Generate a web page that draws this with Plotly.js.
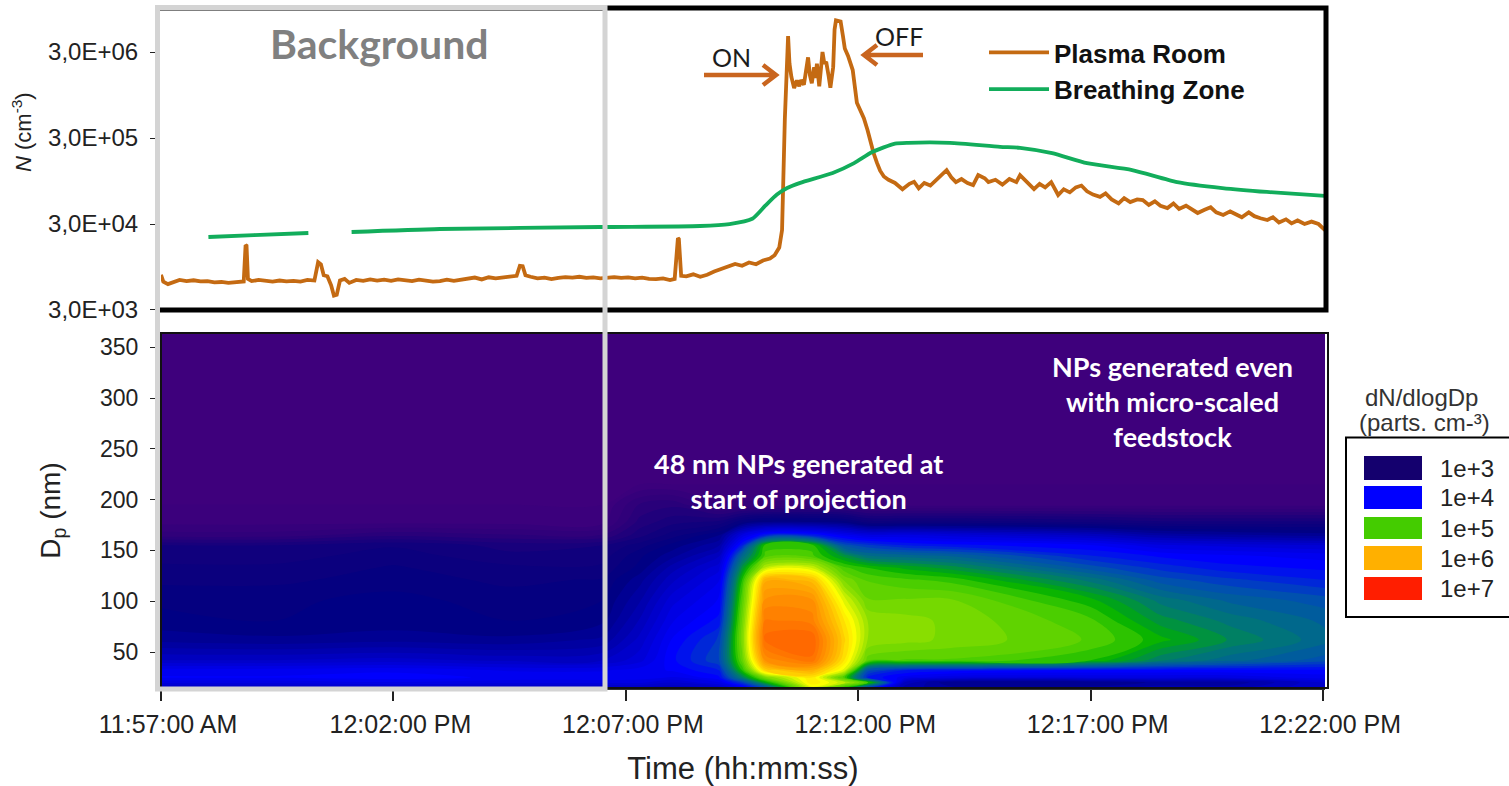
<!DOCTYPE html>
<html>
<head>
<meta charset="utf-8">
<script src="https://cdn.plot.ly/plotly-3.0.1.min.js"></script>
<style>html,body{margin:0;padding:0;background:#fff;overflow:hidden}</style>
</head>
<body>
<div id="chart" style="width:1509px;height:786px"></div>
<script>
// Elapsed minutes after 11:57:00
var baselineMinutes = [0,0.05,0.15,0.3,0.4,0.55,0.7,0.85,1,1.15,1.3,1.45,1.6,1.78,1.82,1.84,1.87,1.95,2.1,2.25,2.4,2.55,2.7,2.85,3,3.15,3.3,3.38,3.44,3.5,3.58,3.66,3.72,3.78,3.85,3.95,4.05,4.2,4.35,4.5,4.65,4.8,4.95,5.1,5.25,5.4,5.55,5.7,5.85,6,6.15,6.3,6.45,6.6,6.75,6.9,7.05,7.2,7.35,7.5,7.65,7.72,7.78,7.84,7.95,8.1,8.25,8.4,8.55,8.7,8.85,9,9.15,9.3,9.45,9.6,9.75,9.9,10.05,10.2,10.35,10.5,10.65,10.8,10.95,11.05,11.12,11.14,11.19];
var baselineN = [7700,6400,6000,6500,6700,6500,6650,6450,6500,6300,6350,6200,6300,6450,17100,16800,6900,6500,6700,6550,6400,6600,6450,6550,6400,6700,6600,10800,10200,7600,7400,5800,4400,4500,6600,6900,6200,6700,6550,6800,6600,6750,6550,6800,6650,6500,6750,6600,6400,6500,6750,6550,6700,6900,7150,6800,7200,7000,7100,7350,7500,9800,9700,7600,7300,7000,7150,6850,7100,7250,7150,7300,7100,7200,7000,7150,7250,7100,7200,7000,7150,6900,6850,7000,6700,6900,20500,20000,7500];
var riseMinutes = [11.3,11.45,11.6,11.75,11.9,12.05,12.2,12.35,12.5,12.65,12.8,12.95,13.1,13.2];
var riseN = [7400,7800,7300,7700,8400,9000,9800,10300,9800,10700,10200,11300,11900,13000];
var peakMinutes = [13.3,13.36,13.42,13.46,13.49,13.52,13.56,13.62,13.68,13.73,13.77,13.83,13.88,13.92,13.96,14.0,14.05,14.08,14.11,14.14,14.16,14.2,14.23,14.27,14.31,14.36,14.4,14.46,14.49,14.52,14.58,14.62,14.67,14.71,14.78,14.83,14.88,14.97,15.05,15.12,15.2,15.26,15.33,15.4,15.47,15.55,15.65,15.79];
var peakN = [16000,25500,500000,2800000,4600000,2200000,1550000,1140000,1400000,1200000,1420000,1250000,2000000,2600000,1600000,1300000,2000000,1500000,2200000,1600000,1200000,2000000,3000000,2200000,2300000,1600000,1150000,2000000,5500000,7000000,6800000,6800000,4600000,3300000,2700000,2300000,1852000,770000,620000,510000,370000,272000,200000,155000,125000,107000,98000,90000];
var tailMinutes = [15.95,16.1,16.2,16.3,16.42,16.55,16.68,16.8,16.9,17.0,17.1,17.22,17.35,17.47,17.58,17.72,17.8,17.95,18.1,18.25,18.4,18.48,18.65,18.78,18.9,19.02,19.15,19.3,19.42,19.55,19.68,19.8,19.92,20.05,20.2,20.32,20.45,20.6,20.72,20.85,21,21.12,21.25,21.38,21.5,21.65,21.78,21.9,22.05,22.18,22.3,22.45,22.58,22.7,22.85,23,23.12,23.25,23.4,23.52,23.65,23.8,23.92,24.05,24.2,24.32,24.45,24.6,24.75,24.9,25.04];
var tailN = [76000,88000,93000,78000,90000,84000,98000,110000,127000,105000,92000,100000,90000,85000,111000,102000,92000,98000,86000,100000,92000,111000,90000,76500,88000,80000,92000,65200,76000,70000,80000,84000,72000,66000,62000,68000,58000,52000,60000,54000,58000,57000,50000,55000,49000,46000,52000,45000,49000,44000,40300,44000,47000,41000,38200,42000,39000,36000,41000,37000,35000,33400,36000,31300,34000,30500,33000,30000,32000,30000,25540];
var plasmaMinutes = [].concat(baselineMinutes,riseMinutes,peakMinutes,tailMinutes);
var plasmaN = [].concat(baselineN,riseN,peakN,tailN);
var breathingMinutes = [1.02,2.0,3.17,3.2,4.1,6.0,9.45,11.6,12.23,12.72,13.0,13.25,13.47,13.75,14.45,14.91,15.3,15.79,16.07,16.97,18.05,18.48,19.17,19.92,20.89,21.86,22.83,23.79,25.04];
var breathingN = [21170,22300,23570,null,24200,26230,27670,28420,29980,34500,49000,66000,78600,90300,117500,153000,206000,258000,264000,264000,237000,231000,200000,153000,127300,92300,78600,70700,63700];

// Contour grid: log10(dN/dlogDp)
var gridMinutes = [0,2.5,5,7.5,9.5,10.3,11,12,12.5,13,14,14.7,15.2,16,17,20,21.5,23,25.04];
var gridDp = [15,20,25,32,42,62,81,101,121,133,145,155,165,178,195,215,365];
var row15  = [3.60,3.60,3.65,3.60,3.60,3.60,3.55,3.65,3.9,4.3,5.5,4.9,4.2,3.5,3.4,3.4,3.5,3.5,3.7];
var row20  = [3.80,3.80,3.85,3.80,3.80,3.80,3.70,3.85,4.2,4.8,5.7,5.4,5.0,3.6,3.3,3.3,3.4,3.4,3.7];
var row25  = [3.95,3.95,3.98,3.92,3.92,3.90,3.85,4.00,4.6,5.2,5.7,5.0,4.1,3.9,3.8,3.8,3.8,3.8,3.9];
var row32  = [3.90,3.90,3.92,3.85,3.85,3.90,3.95,4.1,4.9,5.8,6.0,5.5,4.3,4.1,4.05,4.0,4.0,4.0,4.0];
var row42  = [3.62,3.62,3.65,3.60,3.62,3.75,4.0,4.25,5.1,6.2,6.4,5.7,5.1,5.05,5.05,4.9,4.6,4.45,4.3];
var row62  = [3.35,3.32,3.35,3.32,3.40,3.65,3.95,4.2,5.2,6.45,6.5,5.8,5.3,5.25,5.2,5.05,4.85,4.65,4.45];
var row81  = [3.25,3.22,3.25,3.22,3.28,3.55,3.85,4.05,5.15,6.35,6.3,5.7,5.3,5.25,5.2,5.0,4.7,4.55,4.4];
var row101 = [3.20,3.20,3.25,3.18,3.22,3.45,3.75,3.95,5.05,6.2,6.2,5.5,5.15,5.15,5.15,4.85,4.55,4.4,4.3];
var row121 = [3.12,3.12,3.18,3.12,3.15,3.35,3.6,3.85,4.9,6.0,5.9,5.2,5.05,5.0,4.95,4.55,4.3,4.2,4.1];
var row133 = [3.08,3.08,3.15,3.08,3.08,3.25,3.5,3.75,4.7,5.4,5.45,5.0,4.9,4.8,4.7,4.3,4.15,4.05,4.0];
var row145 = [3.02,3.02,3.1,3.0,3.02,3.2,3.35,3.6,4.45,5.0,5.0,4.7,4.5,4.45,4.4,4.1,4.0,3.95,3.9];
var row155 = [2.98,2.98,3.05,2.95,2.98,3.1,3.25,3.45,4.1,4.95,4.95,4.3,4.2,4.1,4.05,3.95,3.8,3.75,3.7];
var row165 = [2.7,2.7,2.8,2.75,2.75,2.95,3.1,3.3,3.8,4.1,4.1,3.9,3.8,3.8,3.75,3.6,3.45,3.4,3.35];
var row178 = [2.55,2.55,2.55,2.55,2.55,2.85,2.95,3.0,3.2,3.3,3.3,3.25,3.1,3.1,3.1,3.05,3.0,3.0,3.0];
var row195 = [2.5,2.5,2.5,2.5,2.5,2.75,2.8,2.6,2.6,2.6,2.6,2.6,2.55,2.55,2.55,2.55,2.55,2.55,2.55];
var row215 = [2.5,2.5,2.5,2.5,2.5,2.5,2.5,2.5,2.5,2.5,2.5,2.5,2.5,2.5,2.5,2.5,2.5,2.5,2.5];
var row365 = [2.5,2.5,2.5,2.5,2.5,2.5,2.5,2.5,2.5,2.5,2.5,2.5,2.5,2.5,2.5,2.5,2.5,2.5,2.5];

var timeTickVals = [0,5,10,15,20,25];
var timeTickText = ['11:57:00 AM','12:02:00 PM','12:07:00 PM','12:12:00 PM','12:17:00 PM','12:22:00 PM'];
var nTickVals = [3000,30000,300000,3000000];
var nTickText = ['3,0E+03','3,0E+04','3,0E+05','3,0E+06'];
var dpTickVals = [50,100,150,200,250,300,350];
var keyLabels = ['1e+3','1e+4','1e+5','1e+6','1e+7'];
var keyColors = ['#14006e','#0000ff','#44cc00','#ffb000','#ff1e00'];

var W = 1509, H = 786;
function px(x){return x/W;}
function py(y){return 1-y/H;}
var SANS = 'Liberation Sans, Arial, sans-serif';
var HUM = 'Lato, sans-serif';
var ORANGE = '#c46a12';
var ARROW = '#c9651f';

var zGrid = [row15,row20,row25,row32,row42,row62,row81,row101,row121,row133,row145,row155,row165,row178,row195,row215,row365];
var traces = [
 {type:'scatter',mode:'lines',name:'Plasma Room',x:plasmaMinutes,y:plasmaN,xaxis:'x',yaxis:'y',
  line:{color:ORANGE,width:3.8},hoverinfo:'x+y'},
 {type:'scatter',mode:'lines',name:'Breathing Zone',x:breathingMinutes,y:breathingN,xaxis:'x',yaxis:'y',connectgaps:false,
  line:{color:'#12ad5b',width:3.8,shape:'spline',smoothing:0.6},hoverinfo:'x+y'},
 {type:'contour',x:gridMinutes,y:gridDp,z:zGrid,xaxis:'x2',yaxis:'y2',showscale:false,showlegend:false,
  zauto:false,zmin:2.5,zmax:7,autocontour:false,
  contours:{start:2.5,end:7,size:0.08,coloring:'fill',showlines:false},line:{width:0},
  colorscale:[[0,'#3e007c'],[0.0556,'#2c007a'],[0.111,'#12007c'],[0.167,'#000082'],[0.244,'#0000c0'],[0.333,'#0000ff'],[0.4,'#0050b0'],[0.467,'#007a70'],[0.522,'#00b000'],[0.556,'#44cc00'],[0.622,'#90e000'],[0.689,'#ffff00'],[0.756,'#ffc000'],[0.778,'#ffb000'],[0.889,'#ff6600'],[1,'#ff1e00']],
  hoverinfo:'x+y+z'}
];

function arrowPath(x0,x1,y,head){
  var d = x1>x0 ? -head : head;
  return 'M '+px(x0)+' '+py(y)+' L '+px(x1)+' '+py(y)+' M '+px(x1+d)+' '+py(y-10)+' L '+px(x1)+' '+py(y)+' L '+px(x1+d)+' '+py(y+10);
}
var shapes = [
 {type:'rect',xref:'paper',yref:'paper',x0:px(157.5),x1:px(1326),y0:py(310),y1:py(8),line:{color:'#000',width:5},layer:'above'},
 {type:'rect',xref:'paper',yref:'paper',x0:px(161),x1:px(1328),y0:py(688),y1:py(333),line:{color:'#111',width:2},layer:'above'},
 {type:'rect',xref:'paper',yref:'paper',x0:px(157.5),x1:px(605),y0:py(689),y1:py(7.5),line:{color:'#d4d4d4',width:5},layer:'above'},
 {type:'rect',xref:'paper',yref:'paper',x0:px(1346),x1:px(1512),y0:py(617),y1:py(437.5),line:{color:'#000',width:2},fillcolor:'#fff',layer:'above'},
 {type:'path',xref:'paper',yref:'paper',path:arrowPath(704,776,75,13),line:{color:ARROW,width:4.5},layer:'above'},
 {type:'path',xref:'paper',yref:'paper',path:arrowPath(923,864,55,13),line:{color:ARROW,width:4.5},layer:'above'}
];
var keyTops = [456,486,517,546,577], keyBottoms = [480,509,539,570,600];
function note(x,y,text,size,color,family,extra){
  var a = {xref:'paper',yref:'paper',x:px(x),y:py(y),xanchor:'center',yanchor:'middle',text:text,showarrow:false,font:{family:family,size:size,color:color}};
  for(var k in (extra||{})){a[k]=extra[k];}
  return a;
}
var annotations = [
 note(379,44,'<b>Background</b>',41,'#808080',HUM),
 note(731,57,'ON',25,'#1c1c1c',HUM),
 note(899,36,'OFF',25,'#1c1c1c',HUM),
 note(22,132,'<i>N</i> (cm<sup>-3</sup>)',22,'#222',SANS,{textangle:-90}),
 note(1172,402,'<b>NPs generated even<br>with micro-scaled<br>feedstock</b>',27,'#fff',HUM,{align:'center'}),
 note(798,481,'<b>48 nm NPs generated at<br>start of projection</b>',27,'#fff',HUM,{align:'center'}),
 note(1421,397,'dN/dlogDp',24,'#333',SANS),
 note(1424,422,'(parts. cm-³)',24,'#333',SANS)
];
keyLabels.forEach(function(lbl,i){
  shapes.push({type:'rect',xref:'paper',yref:'paper',x0:px(1364),x1:px(1422),y0:py(keyBottoms[i]),y1:py(keyTops[i]),fillcolor:keyColors[i],line:{width:0},layer:'above'});
  annotations.push({xref:'paper',yref:'paper',x:px(1438),xanchor:'left',yanchor:'middle',y:py((keyTops[i]+keyBottoms[i])/2),text:lbl,showarrow:false,font:{family:SANS,size:24,color:'#222'}});
});

var layout = {
 width:W,height:H,autosize:false,margin:{l:0,r:0,t:0,b:0},paper_bgcolor:'#fff',plot_bgcolor:'#fff',
 font:{family:SANS,color:'#222'},
 showlegend:true,
 legend:{x:px(984),xanchor:'left',y:py(29),yanchor:'top',bgcolor:'rgba(0,0,0,0)',itemwidth:60,tracegroupgap:0,
   font:{family:SANS,size:26,weight:700,color:'#111'}},
 xaxis:{domain:[px(161),px(1325)],range:[0,25.04],anchor:'y',showticklabels:false,ticks:'',showgrid:false,zeroline:false,showline:false},
 yaxis:{domain:[py(310),py(8)],type:'log',range:[3.477,6.989],anchor:'x',tickmode:'array',tickvals:nTickVals,ticktext:nTickText,
   ticks:'outside',ticklen:10,tickcolor:'#222',tickfont:{family:SANS,size:24,color:'#222'},ticklabelstandoff:7,showgrid:false,zeroline:false,showline:false},
 xaxis2:{domain:[px(161),px(1325)],range:[0,25.04],anchor:'y2',tickmode:'array',tickvals:timeTickVals,ticktext:timeTickText,
   ticks:'outside',ticklen:11,tickwidth:2,tickcolor:'#222',tickfont:{family:SANS,size:25,color:'#222'},ticklabelstandoff:2,ticklabelshift:7,
   showgrid:false,zeroline:false,showline:true,linecolor:'#333',linewidth:2,
   title:{text:'Time (hh:mm:ss)',standoff:30,font:{family:SANS,size:31,color:'#222'}}},
 yaxis2:{domain:[py(688),py(333)],range:[14.6,364],anchor:'x2',tickmode:'array',tickvals:dpTickVals,
   ticks:'outside',ticklen:10,tickcolor:'#222',tickfont:{family:SANS,size:23,color:'#222'},ticklabelstandoff:7,showgrid:false,zeroline:false,showline:false,
   title:{text:'D<sub>p</sub> (nm)',standoff:31,font:{family:SANS,size:28,color:'#222'}}},
 shapes:shapes,annotations:annotations
};
Plotly.newPlot('chart',traces,layout,{displayModeBar:false});
</script>
</body>
</html>
